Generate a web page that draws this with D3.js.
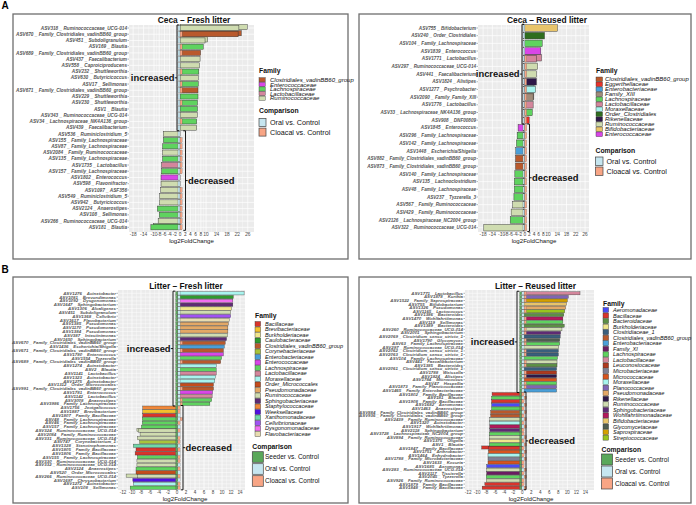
<!DOCTYPE html>
<html><head><meta charset="utf-8">
<script src="https://cdn.jsdelivr.net/npm/d3@7"></script>
<style>body{margin:0;background:#fff}svg{display:block}text{font-family:"Liberation Sans",Arial,Helvetica,sans-serif}</style>
</head><body><svg id="c" width="696" height="505"></svg>
<script>
// ---------- family names (codes) ----------
const FAM = {
 CL:"Clostridiales_vadinBB60_group", EC:"Enterococcaceae", LA:"Lachnospiraceae", LB:"Lactobacillaceae", RU:"Ruminococcaceae",
 EG:"Eggerthellaceae", EB:"Enterobacteriaceae", F13:"Family_XIII", MO:"Moraxellaceae", OC:"Order_Clostridiales", RI:"Rikenellaceae", BI:"Bifidobacteriaceae",
 BA:"Bacillaceae", BV:"Brevibacteriaceae", BU:"Burkholderiaceae", CA:"Caulobacteraceae", CO:"Corynebacteriaceae", OM:"Order_Micrococcales",
 PS:"Pseudomonadaceae", SP:"Sphingobacteriaceae", ST:"Staphylococcaceae", WE:"Weeksellaceae", XA:"Xanthomonadaceae", CE:"Cellvibrionaceae",
 DY:"Dysgonomonadaceae", FL:"Flavobacteriaceae", AE:"Aeromonadaceae", BC:"Bacteroidaceae", C1:"Clostridiaceae_1", F11:"Family_XI",
 LE:"Leuconostocaceae", MB:"Microbacteriaceae", MC:"Micrococcaceae", PL:"Planococcaceae", WO:"Wohlfahrtiimonadaceae", GL:"Glycomycetaceae",
 SA:"Saprospiraceae", SR:"Streptococcaceae"
};
const COMPARISONS = {S:"Seeder vs. Control", O:"Oral vs. Control", C:"Cloacal vs. Control"};

// ---------- A left: Ceca – Fresh litter ----------
const cfLabels = ["ASV318 _ Ruminococcaceae_UCG-014","ASV670 _ Family_Clostridiales_vadinBB60_group","ASV451 _ Subdoligranulum","ASV169 _ Blautia",
 "ASV689 _ Family_Clostridiales_vadinBB60_group","ASV437 _ Faecalibacterium","ASV558 _ Caproiciproducens","ASV232 _ Shuttleworthia","ASV630 _ Butyricicoccus",
 "ASV17 _ Sellimonas","ASV671 _ Family_Clostridiales_vadinBB60_group","ASV229 _ Shuttleworthia","ASV230 _ Shuttleworthia","ASV1 _ Blautia",
 "ASV343 _ Ruminococcaceae_UCG-014","ASV34 _ Lachnospiraceae_NK4A136_group","ASV439 _ Faecalibacterium",
 "ASV536 _ Ruminiclostridium_5","ASV155 _ Family_Lachnospiraceae","ASV87 _ Family_Lachnospiraceae","ASV2084 _ Family_Ruminococcaceae",
 "ASV135 _ Family_Lachnospiraceae","ASV1735 _ Lactobacillus","ASV157 _ Family_Lachnospiraceae","ASV1802 _ Enterococcus","ASV598 _ Flavonifractor",
 "ASV1097 _ ASF356","ASV549 _ Ruminiclostridium_5","ASV942 _ Butyricicoccus","ASV2124 _ Anaerostipes","ASV108 _ Sellimonas",
 "ASV266 _ Ruminococcaceae_UCG-014","ASV181 _ Blautia"];
const cfFamilies = ["RU","CL","RU","LA","CL","RU","RU","LA","RU","LA","CL","LA","LA","LA","RU","LA","RU",
 "RU","LA","LA","RU","LA","LB","LA","EC","RU","RU","RU","RU","LA","LA","RU","LA"];
const cfValues = [22.6,22.3,9.6,8.9,7.9,7.7,7.4,7.2,7.0,7.0,6.9,6.9,6.7,6.7,6.6,6.4,6.4,
 -6.4,-6.4,-6.7,-6.7,-6.7,-7.1,-7.1,-7.3,-7.3,-7.4,-7.8,-7.9,-8.7,-8.0,-8.4,-11.2];
const cfValues2 = [25.8,23.5,10.6,null,null,null,null,null,null,null,null,null,null,null,null,null,null,
 null,null,null,null,null,null,null,null,null,null,null,null,null,null,null,-10.2];
const cfComps = ["O","OC","O","OC","OC","O","O","OC","O","OC","OC","O","OC","O","O","OC","O",
 "O","OC","OC","OC","OC","OC","OC","O","O","OC","OC","OC","OC","OC","OC","OC"];
const cfIncreased = 17;
const cfLegend = ["CL","EC","LA","LB","RU"];
const cfCompLegend = ["O","C"];
const cecaTicks = [-18,-14,-10,-8,-6,-4,-2,0,2,4,6,8,10,14,18,22,26];

// ---------- A right: Ceca – Reused litter ----------
const crLabels = ["ASV755 _ Bifidobacterium","ASV240 _ Order_Clostridiales","ASV104 _ Family_Lachnospiraceae","ASV1839 _ Enterococcus",
 "ASV1771 _ Lactobacillus","ASV297 _ Ruminococcaceae_UCG-014","ASV441 _ Faecalibacterium","ASV1824 _ Alistipes","ASV1277 _ Psychrobacter",
 "ASV2090 _ Family_Family_XIII","ASV1776 _ Lactobacillus","ASV33 _ Lachnospiraceae_NK4A136_group","ASV908 _ DNF00809",
 "ASV1845 _ Enterococcus","ASV296 _ Family_Lachnospiraceae","ASV142 _ Family_Lachnospiraceae","ASV1448 _ Escherichia/Shigella",
 "ASV882 _ Family_Clostridiales_vadinBB60_group","ASV873 _ Family_Clostridiales_vadinBB60_group","ASV140 _ Family_Lachnospiraceae",
 "ASV135 _ Lachnoclostridium","ASV48 _ Family_Lachnospiraceae","ASV237 _ Tyzzerella_3","ASV567 _ Family_Ruminococcaceae",
 "ASV429 _ Family_Ruminococcaceae","ASV2126 _ Lachnospiraceae_NC2004_group","ASV322 _ Ruminococcaceae_UCG-014"];
const crFamilies = ["BI","OC","LA","EC","LB","RU","RU","RI","MO","F13","LB","LA","EG",
 "EC","LA","LA","EB","CL","CL","LA","LA","LA","LA","RU","RU","LA","RU"];
const crValues = [14.1,8.5,7.5,6.9,5.0,5.5,5.0,5.0,4.6,3.6,3.6,3.2,1.9,
 -2.9,-3.3,-3.6,-3.9,-4.0,-4.0,-4.3,-4.5,-4.5,-4.7,-5.2,-5.9,-6.3,-17.7];
const crValues2 = [null,null,null,null,7.2,null,null,null,4.0,3.9,null,null,null,
 null,null,null,null,null,null,null,null,null,null,null,null,null,null];
const crComps = ["O","O","O","O","OC","OC","OC","OC","OC","OC","OC","OC","OC",
 "OC","OC","OC","OC","OC","OC","OC","OC","OC","OC","OC","OC","OC","OC"];
const crIncreased = 13;
const crLegend = ["CL","EG","EB","F13","LA","LB","MO","OC","RI","RU","BI","EC"];
const crCompLegend = ["O","C"];

// ---------- B left: Litter – Fresh litter ----------
const lfLabels = ["ASV1276 _ Acinetobacter","ASV1081 _ Brevundimonas","ASV1092 _ Dysgonomonas","ASV1647 _ Sphingobacterium",
 "ASV1306 _ Alcaligenes","ASV451 _ Subdoligranulum","ASV1368 _ Cellvibrio","ASV1617 _ Flavobacterium","ASV1385 _ Pseudomonas",
 "ASV1170 _ Pseudomonas","ASV1384 _ Pseudomonas","ASV387 _ Intestinimonas","ASV1650 _ Sphingobacterium",
 "ASV670 _ Family_Clostridiales_vadinBB60_group","ASV1436 _ Escherichia/Shigella","ASV671 _ Family_Clostridiales_vadinBB60_group",
 "ASV1780 _ Enterococcus","ASV1554 _ Tyzzerella","ASV689 _ Family_Clostridiales_vadinBB60_group","ASV1274 _ Acinetobacter",
 "ASV2 _ Blautia","ASV1141 _ Lactobacillus","ASV1323 _ Acinetobacter","ASV1275 _ Acinetobacter","ASV1312 _ Order_Micrococcales",
 "ASV991 _ Family_Clostridiales_vadinBB60_group","ASV1781 _ Enterococcus","ASV1142 _ Lactobacillus","ASV3008 _ Anaerostipes",
 "ASV3986 _ Family_Lachnospiraceae",
 "ASV1756 _ Jeotgalicoccus","ASV1887 _ Brevibacterium","ASV1807 _ Family_Bacillaceae","ASV48 _ Family_Lachnospiraceae",
 "ASV46 _ Family_Lachnospiraceae","ASV157 _ Family_Lachnospiraceae","ASV324 _ Ruminococcaceae_UCG-014","ASV2084 _ Family_Ruminococcaceae",
 "ASV331 _ Ruminococcaceae_UCG-014","ASV747 _ Corynebacterium_1","ASV1328 _ Stenotrophomonas","ASV1805 _ Family_Bacillaceae",
 "ASV1806 _ Family_Bacillaceae","ASV155 _ Family_Lachnospiraceae","ASV330 _ Ruminococcaceae_UCG-014","ASV332 _ Ruminococcaceae_UCG-014",
 "ASV2124 _ Anaerostipes","ASV520 _ Order_Micrococcales","ASV266 _ Ruminococcaceae_UCG-014","ASV1697 _ Chryseobacterium",
 "ASV1272 _ Acinetobacter","ASV108 _ Sellimonas"];
const lfFamilies = ["MO","CA","DY","SP","BU","RU","CE","FL","PS","PS","PS","RU","SP","CL","EB","CL","EC","LA","CL","MO",
 "LA","LB","MO","MO","OM","CL","EC","LB","LA","LA",
 "ST","BV","BA","LA","LA","LA","RU","RU","RU","CO","XA","BA","BA","LA","RU","RU","LA","OM","RU","WE","MO","LA"];
const lfValues = [14.9,12.5,12.4,12.4,12.1,11.9,11.9,11.6,11.4,11.3,11.3,11.2,11.0,10.7,10.5,10.3,10.3,9.9,9.7,8.7,
 8.7,8.7,8.5,8.4,8.1,8.1,7.9,7.8,7.7,7.3,
 -7.6,-7.6,-7.6,-7.7,-7.7,-7.9,-8.6,-8.2,-8.8,-8.3,-9.7,-9.1,-9.3,-8.8,-8.9,-8.9,-9.1,-9.1,-8.8,-9.8,-9.7,-10.4];
const lfValues2 = [null,null,null,null,null,null,null,null,null,null,null,null,null,null,null,null,null,null,null,null,
 null,null,null,null,null,null,null,null,null,null,
 null,null,null,null,null,null,-8.9,null,null,null,null,null,null,null,null,null,null,null,-11.3,null,null,null];
const lfComps = ["SO","SO","SO","SO","SO","SO","SO","SO","SO","SO","SO","SO","SO","SOC","SO","SOC","SO","SO","SOC","SO",
 "SO","SO","SO","SO","SO","SOC","SO","SO","SOC","SOC",
 "SC","SC","SO","SOC","SC","SO","SC","SO","SC","SC","SO","SC","SO","SC","SC","SO","SC","SO","SC","SO","SC","SC"];
const lfIncreased = 30;
const lfLegend = ["BA","BV","BU","CA","CL","CO","EB","EC","LA","LB","MO","OM","PS","RU","SP","ST","WE","XA","CE","DY","FL"];
const lfCompLegend = ["S","O","C"];
const litterTicks = [-12,-10,-8,-6,-4,-2,0,2,4,6,8,10,12,14];

// ---------- B right: Litter – Reused litter ----------
const lrLabels = ["ASV1771 _ Lactobacillus","ASV1878 _ Kurthia","ASV1522 _ Family_Saprospiraceae","ASV755 _ Bifidobacterium",
 "ASV1326 _ Pseudomonas","ASV1165 _ Lactococcus","ASV1386 _ Bacteroides","ASV1470 _ Wohlfahrtiimonas","ASV119 _ Sellimonas",
 "ASV1389 _ Bacteroides","ASV260 _ Ruminococcaceae_UCG-014","ASV2001 _ Sphingobacterium","ASV2069 _ Clostridium_sensu_stricto_1",
 "ASV1790 _ Glycomyces","ASV63 _ Family_Lachnospiraceae","ASV297 _ Ruminococcaceae_UCG-014","ASV2062 _ Clostridium_sensu_stricto_1",
 "ASV2063 _ Clostridium_sensu_stricto_1","ASV104 _ Family_Lachnospiraceae","ASV441 _ Faecalibacterium","ASV1385 _ Bacteroides",
 "ASV2061 _ Clostridium_sensu_stricto_1","ASV1788 _ Weissella","ASV1824 _ Alistipes","ASV1784 _ Micrococcus","ASV47 _ Hespellia",
 "ASV1873 _ Family_Planococcaceae","ASV1465 _ Family_Enterobacteriaceae",
 "ASV1802 _ Family_Bacillaceae","ASV181 _ Blautia","ASV1908 _ Family_Bacillaceae","ASV1682 _ Aeromonas","ASV1463 _ Anaerostipes",
 "ASV884 _ Family_Clostridiales_vadinBB60_group","ASV936 _ Family_Clostridiales_vadinBB60_group","ASV2439 _ Family_Ruminococcaceae",
 "ASV1320 _ Acinetobacter","ASV1917 _ Wohlfahrtiimonas","ASV2118 _ Sphingobacterium","ASV3728 _ Lachnospiraceae_NC2004_group",
 "ASV894 _ Family_Ruminococcaceae","ASV1375 _ Oligella","ASV1 _ Blautia","ASV1847 _ Family_Bacillaceae","ASV1751 _ Arthrobacter",
 "ASV1464 _ Enhydrobacter","ASV1788 _ Family_Microbacteriaceae","ASV1633 _ Kocuria","ASV1685 _ Aeromonas",
 "ASV283 _ Ruminococcaceae_UCG-014","ASV2117 _ Tissierella","ASV2045 _ Tyzzerella","ASV926 _ Family_Ruminococcaceae",
 "ASV1879 _ Family_Bacillaceae","ASV1848 _ Family_Bacillaceae"];
const lrFamilies = ["LB","PL","SA","BI","PS","SR","BC","WO","LA","BC","RU","SP","C1","GL","LA","RU","C1","C1","LA","RU","BC",
 "C1","LE","RI","MC","LA","PL","EB",
 "BA","LA","BA","AE","LA","CL","CL","RU","MO","WO","SP","LA","RU","BU","LA","BA","MC","MO","MB","MC","AE","RU","F11","LA","RU","BA","BA"];
const lrValues = [12.8,10.2,10.0,9.8,9.6,9.4,9.2,9.0,9.0,9.3,8.8,8.5,8.4,8.3,8.3,8.1,8.0,8.0,7.8,7.7,7.7,
 7.6,7.6,7.6,7.6,7.6,7.6,7.6,
 -6.7,-6.8,-6.8,-6.8,-6.8,-7.0,-7.0,-7.2,-7.2,-7.2,-7.2,-7.3,-7.3,-7.3,-7.3,-7.5,-7.5,-7.6,-7.6,-7.6,-7.9,-7.9,-7.9,-8.0,-8.0,-8.3,-8.9];
const lrValues2 = [null,null,null,null,null,null,null,null,null,null,null,null,null,null,null,null,null,null,null,null,null,
 null,null,null,null,null,null,null,
 null,null,null,null,null,null,null,null,null,null,null,null,null,null,null,-9.0,null,null,null,null,null,null,null,null,null,null,null];
const lrComps = ["SOC","SOC","SOC","SO","SOC","SOC","SO","SOC","SOC","SO","SOC","SOC","SO","SOC","SOC","SO","SOC","SOC","SO","SOC","SOC",
 "SO","SOC","SOC","SO","SOC","SOC","SO",
 "SC","SOC","SC","SOC","SC","SOC","SC","SOC","SC","SOC","SC","SC","SOC","SC","SOC","SC","SOC","SC","SOC","SC","SC","SOC","SC","SOC","SC","SC","SOC"];
const lrIncreased = 28;
const lrLegend = ["AE","BA","BC","BU","C1","CL","EB","F11","LA","LB","LE","MB","MC","MO","PL","PS","RI","RU","SP","WO","BI","GL","SA","SR"];
const lrCompLegend = ["S","O","C"];

// ---------- styles ----------
const FAM_COLOR = {
 CL:"#b9592c", EC:"#d946e8", LA:"#5fd35f", LB:"#d4869c", RU:"#cfdcb0", EG:"#e8312a", EB:"#4a9fd8", F13:"#a08c7a",
 MO:"#a8f4ee", OC:"#2f6e1e", RI:"#2e1848", BI:"#e8c46a", BA:"#d9342b", BV:"#f2c12e", BU:"#f0e68c", CA:"#2e9a2e",
 CO:"#a8c43a", OM:"#c44c1c", PS:"#e3a866", SP:"#5e2a74", ST:"#f0883a", WE:"#5010e0", XA:"#6fd8a8", CE:"#a052f2",
 DY:"#f06ef0", FL:"#e8dcb0", AE:"#4b4bf5", BC:"#5d8f45", C1:"#3a5f7d", F11:"#6b1b61", LE:"#b03a1e", MB:"#7f7f95",
 MC:"#d9541e", PL:"#8064b4", WO:"#b3185c", GL:"#4f5d50", SA:"#d4a000", SR:"#97c41e"
};
const COMP_COLOR = {S:"#5aa85a", O:"#c6e6f0", C:"#f8a585"};

const svg = d3.select("#c");

function drawPanel(d, L) {
  const g = svg.append("g");
  const x = d3.scaleLinear().domain(L.domain).range([L.plot[0], L.plot[2]]);
  const n = d.labels.length;
  const y = d3.scalePoint().domain(d3.range(n)).range([L.rowTop, L.rowBottom]);
  const bh = y.step() * L.barFrac;
  const rows = d3.range(n).map(i => ({i, v:d.values[i], v2:d.values2[i], f:d.families[i], c:d.comps[i]}));

  g.append("rect").attr("x", L.box[0]).attr("y", L.box[1]).attr("width", L.box[2]-L.box[0]).attr("height", L.box[3]-L.box[1])
    .attr("fill","none").attr("stroke","#6e6e6e").attr("stroke-width",1.3);

  g.append("rect").attr("x", L.plot[0]).attr("y", L.plot[1]).attr("width", L.plot[2]-L.plot[0]).attr("height", L.plot[3]-L.plot[1]).attr("fill","#ebebeb");
  const minors = d.ticks.slice(1).map((t,i) => (t + d.ticks[i]) / 2);
  g.append("g").selectAll("line").data(minors).join("line")
    .attr("x1", x).attr("x2", x).attr("y1", L.plot[1]).attr("y2", L.plot[3]).attr("stroke","#fff").attr("stroke-width",0.35);
  g.append("g").selectAll("line").data(d.ticks).join("line")
    .attr("x1", x).attr("x2", x).attr("y1", L.plot[1]).attr("y2", L.plot[3]).attr("stroke","#fff").attr("stroke-width",0.7);
  g.append("g").selectAll("line").data(rows).join("line")
    .attr("x1", L.plot[0]).attr("x2", L.plot[2]).attr("y1", r => y(r.i)).attr("y2", r => y(r.i)).attr("stroke","#fff").attr("stroke-width",L.hGrid);

  const barAttrs = (sel, key, off) => sel
    .attr("x", r => x(Math.min(0, r[key]))).attr("width", r => Math.abs(x(r[key]) - x(0)))
    .attr("y", r => y(r.i) - bh/2 + off).attr("height", bh)
    .attr("fill", r => FAM_COLOR[r.f]).attr("stroke","#333").attr("stroke-width", L.sw);
  barAttrs(g.append("g").selectAll("rect").data(rows.filter(r => r.v2 != null)).join("rect"), "v2", -L.off);
  barAttrs(g.append("g").selectAll("rect").data(rows).join("rect"), "v", 0);

  const tiles = [];
  rows.forEach(r => { let s = L.tileStart; for (const ch of r.c) { tiles.push({i:r.i, a:s, b:s + L.tileW, ch}); s += L.tileW; } });
  g.append("g").selectAll("rect").data(tiles).join("rect")
    .attr("x", t => x(t.a)).attr("width", t => x(t.b) - x(t.a))
    .attr("y", t => y(t.i) - bh/2).attr("height", bh)
    .attr("fill", t => COMP_COLOR[t.ch]).attr("stroke","#555").attr("stroke-width", L.sw*0.6);

  // y axis labels & ticks
  g.append("g").selectAll("line").data(rows).join("line")
    .attr("x1", L.plot[0]-1.5).attr("x2", L.plot[0]).attr("y1", r => y(r.i)).attr("y2", r => y(r.i)).attr("stroke","#444").attr("stroke-width",0.4);
  g.append("g").selectAll("text").data(rows).join("text")
    .attr("x", L.plot[0]-2).attr("y", r => y(r.i)).attr("dy","0.35em").attr("text-anchor","end")
    .attr("font-size", L.labelFont).attr("font-style","italic").attr("font-weight","bold").attr("fill","#555")
    .text(r => d.labels[r.i]);

  // x axis
  g.append("g").selectAll("line").data(d.ticks).join("line")
    .attr("x1", x).attr("x2", x).attr("y1", L.plot[3]).attr("y2", L.plot[3]+1.5).attr("stroke","#444").attr("stroke-width",0.4);
  g.append("g").selectAll("text").data(d.ticks).join("text")
    .attr("x", x).attr("y", L.tickY).attr("text-anchor","middle").attr("font-size", L.tickFont).attr("fill","#4d4d4d")
    .text(t => t);
  g.append("text").attr("x", L.axisTitleX).attr("y", L.axisTitleY).attr("text-anchor","middle").attr("font-size",6.1).attr("fill","#111")
    .text("log2FoldChange");
  g.append("text").attr("x", L.titleX).attr("y", L.titleY).attr("text-anchor","middle").attr("font-size",8.4).attr("font-weight","bold").attr("fill","#111")
    .text(d.title);

  // brackets
  const incTop = y(0) - bh/2 - 0.5, incBot = y(d.nInc-1) + bh/2 + 0.5;
  const decTop = y(d.nInc) - bh/2 - 0.5, decBot = y(n-1) + bh/2 + 0.5;
  const bi = L.incX, bd = L.decX;
  const incMid = (incTop + incBot)/2, decMid = (decTop + decBot)/2;
  g.append("path").attr("d", `M${bi+2.2},${incTop}H${bi}V${incBot}H${bi+2.2}M${bi},${incMid}H${bi-2.2}`)
    .attr("fill","none").attr("stroke","#000").attr("stroke-width",0.9);
  g.append("path").attr("d", `M${bd-2.2},${decTop}H${bd}V${decBot}H${bd-2.2}M${bd},${decMid}H${bd+2.2}`)
    .attr("fill","none").attr("stroke","#000").attr("stroke-width",0.9);
  g.append("text").attr("x", bi-2.4).attr("y", incMid).attr("dy","0.36em").attr("text-anchor","end")
    .attr("font-size",9.4).attr("font-weight","bold").attr("fill","#111").text("increased");
  g.append("text").attr("x", bd+2.6).attr("y", decMid).attr("dy","0.36em").attr("text-anchor","start")
    .attr("font-size",9.4).attr("font-weight","bold").attr("fill","#111").text("decreased");

  // family legend
  const lg = L.legend;
  g.append("text").attr("x", lg.x).attr("y", lg.titleY).attr("font-size",6.8).attr("font-weight","bold").attr("fill","#111").text("Family");
  g.append("g").selectAll("rect").data(d.legend).join("rect")
    .attr("x", lg.x).attr("y", (f,i) => lg.y0 + i*lg.step - lg.keyH/2).attr("width", lg.keyW).attr("height", lg.keyH)
    .attr("fill", f => FAM_COLOR[f]).attr("stroke","#333").attr("stroke-width",0.4);
  g.append("g").selectAll("text").data(d.legend).join("text")
    .attr("x", lg.textX).attr("y", (f,i) => lg.y0 + i*lg.step).attr("dy","0.35em")
    .attr("font-size", lg.font).attr("font-style","italic").attr("fill","#111").text(f => FAM[f]);

  // comparison legend
  const cg = L.comp;
  g.append("text").attr("x", cg.x).attr("y", cg.titleY).attr("font-size",6.8).attr("font-weight","bold").attr("fill","#111").text("Comparison");
  g.append("g").selectAll("rect").data(d.compLegend).join("rect")
    .attr("x", cg.x).attr("y", (c,i) => cg.y0 + i*cg.step).attr("width", cg.keyW).attr("height", cg.keyH)
    .attr("fill", c => COMP_COLOR[c]).attr("stroke","#444").attr("stroke-width",0.7);
  g.append("g").selectAll("text").data(d.compLegend).join("text")
    .attr("x", cg.textX).attr("y", (c,i) => cg.y0 + i*cg.step + cg.keyH/2).attr("dy","0.35em")
    .attr("font-size", cg.font).attr("fill","#111").text(c => COMPARISONS[c]);
}

// panel letters
svg.append("text").attr("x",1.5).attr("y",8.8).attr("font-size",10).attr("font-weight","bold").text("A");
svg.append("text").attr("x",1.5).attr("y",272.5).attr("font-size",10).attr("font-weight","bold").text("B");

drawPanel(
 {title:"Ceca – Fresh litter", labels:cfLabels, families:cfFamilies, values:cfValues, values2:cfValues2, comps:cfComps,
  nInc:cfIncreased, legend:cfLegend, compLegend:cfCompLegend, ticks:cecaTicks},
 {box:[13,14,348,259], plot:[129,25,254,232], domain:[-19.6,28.4], rowTop:28, rowBottom:227.3, barFrac:0.82, hGrid:0.7, sw:0.45, off:1,
  tileStart:-0.8, tileW:0.8, labelFont:4.7, tickFont:4.9, tickY:236, axisTitleX:191.5, axisTitleY:242.5, titleX:194, titleY:23,
  incX:177, decX:185.5,
  legend:{x:259, titleY:73, y0:79.8, step:4.6, keyW:6.2, keyH:4.2, textX:270, font:6},
  comp:{x:259, titleY:112.5, y0:118.5, step:9.6, keyW:7, keyH:8, textX:270, font:7.2}});

drawPanel(
 {title:"Ceca – Reused litter", labels:crLabels, families:crFamilies, values:crValues, values2:crValues2, comps:crComps,
  nInc:crIncreased, legend:crLegend, compLegend:crCompLegend, ticks:cecaTicks},
 {box:[359,14,691,259], plot:[478,25,589,232], domain:[-20.2,27.7], rowTop:28, rowBottom:227.7, barFrac:0.85, hGrid:0.7, sw:0.45, off:1,
  tileStart:-0.8, tileW:0.8, labelFont:4.6, tickFont:4.9, tickY:236, axisTitleX:534, axisTitleY:242.5, titleX:547, titleY:23,
  incX:522, decX:529.5,
  legend:{x:596, titleY:73, y0:79.3, step:5.0, keyW:6.5, keyH:4.6, textX:605, font:6},
  comp:{x:595.5, titleY:153, y0:157, step:10, keyW:7.5, keyH:8.5, textX:606.5, font:7.2}});

drawPanel(
 {title:"Litter – Fresh litter", labels:lfLabels, families:lfFamilies, values:lfValues, values2:lfValues2, comps:lfComps,
  nInc:lfIncreased, legend:lfLegend, compLegend:lfCompLegend, ticks:litterTicks},
 {box:[13,277,348,503], plot:[118,290,245,490], domain:[-13.1,15.1], rowTop:293.3, rowBottom:487.7, barFrac:0.86, hGrid:0.5, sw:0.35, off:0.6,
  tileStart:-0.3, tileW:0.5, labelFont:4.4, tickFont:4.6, tickY:494.3, axisTitleX:185, axisTitleY:500.8, titleX:186, titleY:288.6,
  incX:173, decX:183,
  legend:{x:255, titleY:318, y0:324, step:5.5, keyW:5.6, keyH:5, textX:265, font:5.6},
  comp:{x:252.3, titleY:449, y0:451.7, step:12, keyW:11, keyH:10.6, textX:265, font:6.5}});

drawPanel(
 {title:"Litter – Reused litter", labels:lrLabels, families:lrFamilies, values:lrValues, values2:lrValues2, comps:lrComps,
  nInc:lrIncreased, legend:lrLegend, compLegend:lrCompLegend, ticks:litterTicks},
 {box:[359,277,691,503], plot:[465,290,594,490], domain:[-12.7,15.9], rowTop:293.3, rowBottom:487.7, barFrac:0.86, hGrid:0.5, sw:0.35, off:0.6,
  tileStart:-0.6, tileW:0.5, labelFont:4.4, tickFont:4.6, tickY:494.3, axisTitleX:531, axisTitleY:500.8, titleX:535.5, titleY:288.6,
  incX:517, decX:526,
  legend:{x:603, titleY:305.5, y0:310, step:5.55, keyW:5.6, keyH:5, textX:613, font:5.6},
  comp:{x:601.5, titleY:451.5, y0:454, step:12, keyW:11, keyH:11, textX:615, font:6.5}});
</script></body></html>
